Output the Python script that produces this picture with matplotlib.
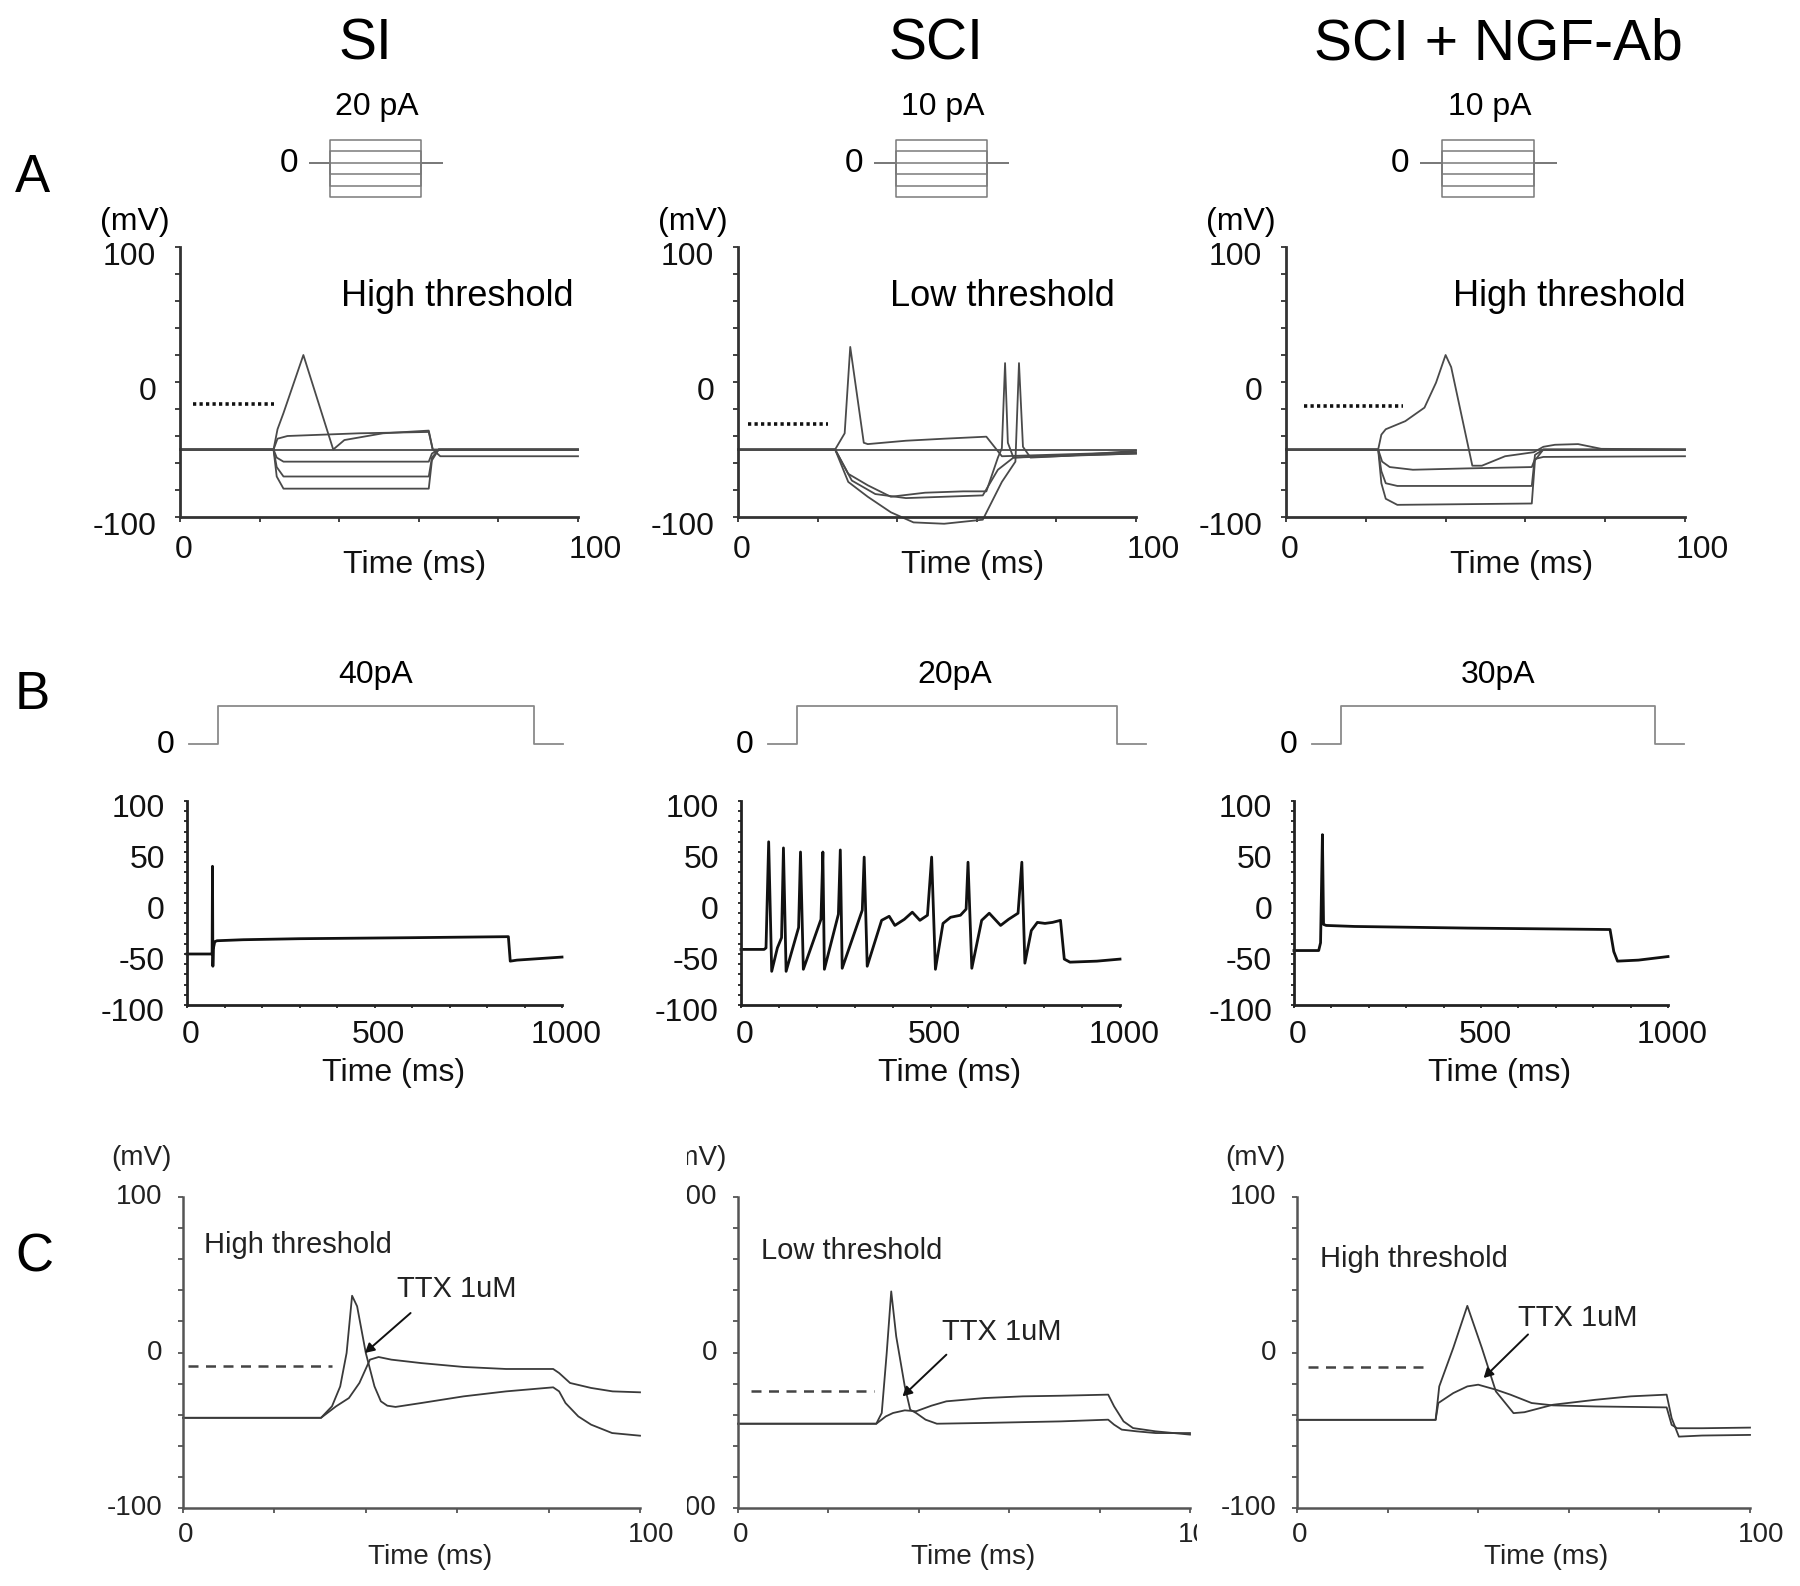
import matplotlib
matplotlib.use('Agg')
import matplotlib.pyplot as plt
from matplotlib.patches import Rectangle

plt.rcParams['font.family'] = ['Liberation Sans', 'DejaVu Sans']

# ---------------- data ----------------
titles = ['SI', 'SCI', 'SCI + NGF-Ab']
stimA_labels = ['20 pA', '10 pA', '10 pA']
stimB_labels = ['40pA', '20pA', '30pA']
thresh_labels = ['High threshold', 'Low threshold', 'High threshold']

# A: step protocol (ms, relative current steps)
stepA_t = [0, 15.5, 15.5, 84, 84, 100]
stepA_levels = [2, 1, 0, -1, -2, -3]
# B: single step (ms, relative current)
stepB_t = [0, 78, 78, 922, 922, 1000]
stepB_i = [0, 0, 1, 1, 0, 0]

# A row, SI (time ms, mV)
a1_t = [
    [0, 23.5, 24.5, 26, 31, 38.5, 41.3, 51, 62.5, 63.5, 65.4, 100],
    [0, 23.5, 24.5, 27, 45, 62.5, 63.5, 100],
    [0, 100],
    [0, 23.5, 24.3, 26, 62.5, 63.3, 65, 100],
    [0, 23.5, 24.3, 26, 62.5, 63.3, 65, 100],
    [0, 23.5, 24.3, 26, 62.5, 63.3, 65, 100],
]
a1_v = [
    [-50, -50, -35, -23, 20, -50, -43, -38, -36, -50, -55, -55],
    [-50, -50, -42, -40, -38, -37, -50, -50],
    [-50, -50],
    [-50, -50, -56, -59, -59, -53, -50, -50],
    [-50, -50, -63, -70, -70, -56, -50, -50],
    [-50, -50, -70, -79, -79, -58, -50, -50],
]
a1_dot = ([3.3, 23.6], [-16, -16])

# A row, SCI
a2_t = [
    [0, 24.4, 26.8, 28.2, 31.6, 32.6, 42.2, 51.8, 62.4, 66.3, 100],
    [0, 100],
    [0, 24.4, 27.7, 32.6, 38.4, 47.0, 56.6, 62.4, 65.3, 66.3, 67.1, 67.8, 69.2, 75.9, 100],
    [0, 24.4, 28.6, 34.5, 42.2, 61.5, 65.3, 69.2, 100],
    [0, 24.4, 27.7, 32.6, 38.4, 44.1, 51.8, 61.5, 66.3, 69.7, 70.6, 71.6, 73.5, 80.7, 100],
]
a2_v = [
    [-50, -50, -38, 26, -45, -46, -43.5, -42, -40.5, -55, -52],
    [-50, -50],
    [-50, -50, -68, -76.5, -85, -82, -81, -81, -56, -49, 14, -45, -56, -55, -53],
    [-50, -50, -73, -83, -86, -84, -65, -56, -53],
    [-50, -50, -74, -85, -96.5, -104, -105, -102, -74, -59, 14, -48, -56, -55, -51],
]
a2_dot = ([2.6, 22.7], [-31, -31])

# A row, SCI + NGF-Ab
a3_t = [
    [0, 23.1, 23.9, 25.0, 29.9, 34.7, 37.6, 40.0, 41.4, 46.7, 49.1, 54.9, 62.1, 64.5, 67.4, 73.2, 79.0, 100],
    [0, 100],
    [0, 23.1, 24.1, 26.0, 31.8, 45.3, 61.6, 62.4, 64.5, 100],
    [0, 23.1, 23.9, 25.0, 27.9, 61.6, 62.4, 64.5, 100],
    [0, 23.1, 23.9, 25.0, 27.9, 61.6, 62.4, 64.5, 100],
]
a3_v = [
    [-50, -50, -39, -35, -29, -19, -0.5, 20, 11, -62, -62, -55, -52, -48, -46.5, -46, -49.5, -50],
    [-50, -50],
    [-50, -50, -59, -63, -65, -64, -63, -57, -55.5, -55],
    [-50, -50, -66, -75, -77, -77, -54, -50, -50],
    [-50, -50, -75, -86.5, -91, -90, -58, -50, -50],
]
a3_dot = ([4.5, 29.2], [-18, -18])

# B row (time ms, mV)
b1_t = [0, 66, 67, 68, 69, 70, 74, 80, 150, 300, 600, 857, 862, 880, 1000]
b1_v = [-50, -50, -48, 36, -62, -45, -38, -37, -36, -35, -34, -33, -57, -56, -53]

b2_t = [0, 61, 66, 73, 81, 96, 107, 112, 119, 152, 157, 164.5, 211, 216, 220, 257, 262, 267,
        320, 325, 333, 371, 391, 406, 431, 452, 472, 492, 503, 513, 533, 553, 579, 594,
        599, 609, 635, 655, 685, 706, 731, 741, 749, 766, 782, 802, 822, 843, 853, 868, 939, 1000]
b2_v = [-45.5, -45.5, -44, 60, -67, -44, -34, 54, -67, -24, 50, -65, -16, 50, -65, -11, 52, -64,
        -7, 45, -62, -17, -13, -22, -16, -9, -17, -12, 45, -65, -20, -14, -12, -6,
        40, -64, -17, -10, -22, -16, -10, 40, -59, -27, -19, -20, -19, -17, -55, -58, -57, -55]

b3_t = [0, 66, 71, 76, 79, 86, 162, 465, 845, 855, 865, 921, 1000]
b3_v = [-46.6, -46.6, -39, 67, -21, -22, -23, -24.6, -26, -47.6, -57, -56, -52.5]

# C row (time ms, mV): control and TTX 1uM
c1_t = [0, 30.2, 32.6, 34.4, 35.8, 37.0, 38.1, 40.0, 41.9, 43.3, 44.7, 46.5, 52.1, 61.4, 70.7, 81.0,
        82.3, 83.7, 86.5, 89.3, 93.9, 100]
c1_v = [-42, -42, -34.6, -21.8, -0.3, 36.5, 29.7, -0.3, -21.8, -31.4, -34.2, -35, -32.5, -28.2, -25,
        -22.4, -25, -32.5, -41.1, -46.4, -51.8, -53.5]
c1_ttx_t = [0, 30.2, 33.5, 36.3, 38.6, 40.9, 42.8, 45.6, 52.1, 61.4, 70.7, 81.0, 82.3, 84.7, 89.3, 94, 100]
c1_ttx_v = [-42, -42, -34.6, -29.3, -19.6, -4.6, -2.9, -4.6, -6.8, -9.3, -10.6, -10.6, -13.2, -19.6,
            -22.8, -25, -25.6]
c1_dash = ([1, 32.6], [-8.5, -8.5])

c2_t = [0, 30.6, 31.8, 32.9, 33.9, 35.0, 36.9, 38.1, 39.4, 41.5, 44.0, 54.5, 71.4, 81.9, 83.2, 84.9,
        88.2, 92.4, 100]
c2_v = [-45.8, -45.8, -38.9, -0.3, 39.3, 10.4, -21.8, -36.8, -38.9, -43.2, -45.8, -45.3, -44.3,
        -43.2, -46.4, -49.6, -50.7, -51.8, -51.8]
c2_ttx_t = [0, 30.6, 32.7, 34.3, 36.9, 39.4, 42.8, 46.1, 54.5, 63, 71.4, 81.9, 83.2, 85.3, 87.4, 92.4, 100]
c2_ttx_v = [-45.8, -45.8, -41.1, -38.9, -37.2, -37.8, -34.2, -31.4, -29.3, -28.2, -27.8, -27.1,
            -34.6, -44.3, -48.6, -50.7, -52.8]
c2_dash = ([2.8, 30.1], [-25, -25])

c3_t = [0, 30.6, 31.4, 34.5, 37.6, 40.8, 43.9, 47.8, 50.2, 56.5, 65.9, 73.7, 81.6, 82.7, 84.3, 89.4, 100]
c3_v = [-43.3, -43.3, -21.8, 3.0, 30.0, 3.0, -25.0, -39.0, -38.4, -33.6, -30.4, -28.2, -27.1, -42.2,
        -54.1, -53.4, -53.0]
c3_ttx_t = [0, 30.6, 31.2, 34.5, 37.6, 40, 43.9, 47.1, 51.8, 56.5, 65.9, 81.6, 82.7, 83.9, 89.4, 100]
c3_ttx_v = [-43.3, -43.3, -32.5, -26.1, -21.8, -20.7, -23.9, -27.1, -32.5, -34.0, -34.7, -35.3,
            -46.5, -48.7, -48.7, -48.3]
c3_dash = ([2.4, 29.4], [-9.5, -9.5])

# ---------------- figure ----------------
W, H = 1800, 1586
fig = plt.figure(figsize=(W / 100, H / 100), dpi=100, facecolor='w')


def axes_px(x0, y0, x1, y1):
    return fig.add_axes([x0 / W, 1 - y1 / H, (x1 - x0) / W, (y1 - y0) / H])


def ftext(x, y, s, size, ha='center', va='center', **kw):
    fig.text(x / W, 1 - y / H, s, fontsize=size, ha=ha, va=va, **kw)


def style(ax, xlim, ylim, xt, yt, lw, col):
    ax.set_xlim(xlim)
    ax.set_ylim(ylim)
    for s in ['top', 'right']:
        ax.spines[s].set_visible(False)
    for s in ['left', 'bottom']:
        ax.spines[s].set_linewidth(lw)
        ax.spines[s].set_color(col)
    ax.set_xticks(xt)
    ax.set_yticks(yt)
    ax.set_xticklabels([])
    ax.set_yticklabels([])
    ax.tick_params(length=3.5, width=1.3, color=col)
    ax.patch.set_alpha(0)


def ylab(ax, vals, dx, dy, size, col='#111'):
    for v in vals:
        ax.annotate(str(v), (0, v), xycoords=ax.get_yaxis_transform(), xytext=(dx, -dy),
                    textcoords='offset pixels', ha='right', va='center', fontsize=size,
                    color=col, annotation_clip=False)


def xlab(ax, vals, dx, dy, size, col='#111'):
    for v in vals:
        ax.annotate(str(v), (v, 0), xycoords=ax.get_xaxis_transform(), xytext=(dx, -dy),
                    textcoords='offset pixels', ha='center', va='center', fontsize=size,
                    color=col, annotation_clip=False)


def ax_text(ax, fx, dy, s, size, col='#111'):
    # text at axes-fraction x, dy pixels below the bottom spine
    ax.annotate(s, (fx, 0), xycoords='axes fraction', xytext=(0, -dy), textcoords='offset pixels',
                ha='center', va='center', fontsize=size, color=col, annotation_clip=False)


# titles and panel letters
for x, s in zip([365, 936, 1498], titles):
    ftext(x, 45, s, 41)
ftext(32, 178, 'A', 38)
ftext(32, 695, 'B', 38)
ftext(34, 1257, 'C', 38)

# ---------------- row A ----------------
A_x = [(180, 578), (738, 1136), (1286, 1685)]
stimA_x = [(310, 442), (875, 1008), (1421, 1556)]
A_data = [(a1_t, a1_v, a1_dot), (a2_t, a2_v, a2_dot), (a3_t, a3_v, a3_dot)]
A_text_x = [457, 1002, 1569]

for i in range(3):
    sx0, sx1 = stimA_x[i]
    sax = axes_px(sx0, 140, sx1, 197)
    sax.axis('off')
    sax.set_xlim(0, 100)
    sax.set_ylim(-3, 2)
    for lev in stepA_levels:
        sax.plot(stepA_t, [0, 0, lev, lev, 0, 0], color='#7a7a7a', lw=1.1, clip_on=False)
    ftext(sx0 - 21, 163, '0', 24)
    ftext((sx0 + sx1) / 2 + 1, 107, stimA_labels[i], 23)

    x0, x1 = A_x[i]
    ax = axes_px(x0, 247, x1, 517)
    style(ax, (0, 100), (-100, 100), range(0, 101, 20), range(-100, 101, 20), 2.0, '#333')
    tt, vv, dot = A_data[i]
    for t, v in zip(tt, vv):
        ax.plot(t, v, color='#4a4a4a', lw=1.3, clip_on=False)
    ax.plot(dot[0], dot[1], color='#111', lw=2.6, ls=(0, (0.9, 0.9)))
    ylab(ax, [100, 0, -100], -24, 10, 23)
    xlab(ax, [0], 4, 33, 23)
    xlab(ax, [100], 17, 33, 23)
    ax.annotate('(mV)', (0, 1), xycoords='axes fraction', xytext=(-45, 25),
                textcoords='offset pixels', ha='center', va='center', fontsize=23, annotation_clip=False)
    ax_text(ax, 0.59, 48, 'Time (ms)', 23)
    ftext(A_text_x[i], 297, thresh_labels[i], 26)

# ---------------- row B ----------------
B_x = [(187, 562), (741, 1120), (1294, 1668)]
stimB_x = [(189, 563), (768, 1146), (1312, 1684)]
B_data = [(b1_t, b1_v), (b2_t, b2_v), (b3_t, b3_v)]
B_lab_x = [376, 955, 1498]

for i in range(3):
    sx0, sx1 = stimB_x[i]
    sbx = axes_px(sx0, 706, sx1, 744)
    sbx.axis('off')
    sbx.set_xlim(0, 1000)
    sbx.set_ylim(0, 1)
    sbx.plot(stepB_t, stepB_i, color='#8a8a8a', lw=1.3, clip_on=False)
    ftext(sx0 - 23, 745, '0', 23)
    ftext(B_lab_x[i], 675, stimB_labels[i], 23)

    x0, x1 = B_x[i]
    ax = axes_px(x0, 801, x1, 1005)
    style(ax, (0, 1000), (-100, 100), range(0, 1001, 100), range(-100, 101, 10), 2.0, '#222')
    ax.tick_params(length=2.5)
    t, v = B_data[i]
    ax.plot(t, v, color='#111', lw=2.0, clip_on=False)
    ylab(ax, [100, 50, 0, -50, -100], -22, 8, 23)
    xlab(ax, [0, 500, 1000], 4, 30, 23)
    ax_text(ax, 0.55, 68, 'Time (ms)', 23)

# ---------------- row C ----------------
C_x = [(183, 640), (738, 1190), (1297, 1750)]
C_data = [(c1_t, c1_v, c1_ttx_t, c1_ttx_v, c1_dash),
          (c2_t, c2_v, c2_ttx_t, c2_ttx_v, c2_dash),
          (c3_t, c3_v, c3_ttx_t, c3_ttx_v, c3_dash)]
C_thr_xy = [(298, 1245), (852, 1251), (1414, 1259)]
C_ttx_xy = [(457, 1289), (1002, 1332), (1578, 1318)]
C_arrow = [((49.8, 25.4), (39.8, -0.3)), ((46.1, -1.4), (36.4, -28.2)), ((51, 11.6), (41.2, -16.4))]
C_time_fx = [0.54, 0.52, 0.55]

for i in range(3):
    x0, x1 = C_x[i]
    ax = axes_px(x0, 1197, x1, 1508)
    style(ax, (0, 100), (-100, 100), range(0, 101, 20), range(-100, 101, 20), 1.8, '#555')
    t, v, tt, tv, dash = C_data[i]
    ax.plot(t, v, color='#3a3a3a', lw=1.3, clip_on=False)
    ax.plot(tt, tv, color='#3a3a3a', lw=1.3, clip_on=False)
    ax.plot(dash[0], dash[1], color='#444', lw=1.8, ls=(0, (4, 3)))
    tail, head = C_arrow[i]
    ax.annotate('', xy=head, xytext=tail,
                arrowprops=dict(arrowstyle='-|>,head_length=0.55,head_width=0.3', color='#111',
                                lw=1.4, shrinkA=0, shrinkB=0))
    ylab(ax, [100, 0, -100], -21, 0, 20, '#222')
    xlab(ax, [0], 3, 27, 20, '#222')
    xlab(ax, [100], 11, 27, 20, '#222')
    ax.annotate('(mV)', (0, 1), xycoords='axes fraction', xytext=(-42, 39),
                textcoords='offset pixels', ha='center', va='center', fontsize=20,
                color='#222', annotation_clip=False)
    ax_text(ax, C_time_fx[i], 49, 'Time (ms)', 20, '#222')
    ftext(C_thr_xy[i][0], C_thr_xy[i][1], thresh_labels[i], 21, color='#222')
    ftext(C_ttx_xy[i][0], C_ttx_xy[i][1], 'TTX 1uM', 21, color='#222')

# the middle C panel is cropped in the original figure
for (rx, ry, rw, rh) in [(655, 1135, 32, 386), (1197, 1521, 30, 40)]:
    fig.add_artist(Rectangle((rx / W, 1 - (ry + rh) / H), rw / W, rh / H, transform=fig.transFigure,
                             facecolor='w', edgecolor='none', zorder=10))

fig.savefig('out.png', dpi=100, facecolor='w')
